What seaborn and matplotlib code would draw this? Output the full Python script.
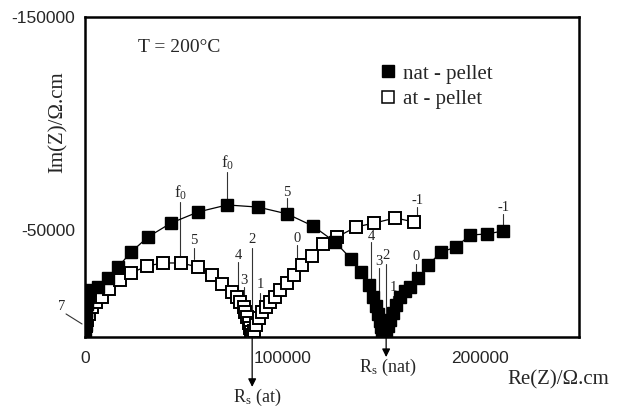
import matplotlib
matplotlib.use("Agg")
import matplotlib.pyplot as plt
from matplotlib.lines import Line2D
import seaborn as sns
import pandas as pd

# Impedance spectra at 200 °C (Nyquist representation, -Im plotted upward)
nat_re = [0, 0, 300, 500, 700, 1000, 1500, 1800, 6600, 11600, 16700, 23300,
          31900, 43500, 57200, 71900, 87600, 102300, 115400, 126600, 134700,
          139700, 143800, 145800, 147300, 148300, 149400, 149900, 150400,
          150900, 151900, 152400, 153400, 154400, 155900, 157500, 159500,
          162000, 164500, 168600, 173700, 180200, 187800, 194900, 203500,
          211600]
nat_im = [-500, -2800, -5600, -8900, -12200, -15500, -18800, -22000, -23400,
          -27700, -32800, -39800, -46900, -53400, -58600, -61900, -60900,
          -57700, -52000, -44500, -36600, -30500, -24400, -18800, -14500,
          -10800, -7500, -4700, -2300, -500, -900, -2800, -5200, -8000,
          -11300, -15000, -18800, -21600, -23400, -27700, -33800, -39800,
          -42200, -47800, -48300, -49700]

at_re = [0, 0, 500, 1000, 2000, 3500, 5600, 8600, 12200, 17700, 23300, 31400,
         39500, 48600, 57200, 64300, 69400, 74400, 77000, 78500, 80500, 81000,
         82000, 83000, 83500, 84000, 84600, 85600, 86600, 88100, 89600, 91600,
         93700, 96200, 98700, 102300, 105800, 109900, 114900, 120500, 127600,
         137200, 146300, 157000, 166600]
at_im = [-500, -2800, -5200, -8000, -10800, -14100, -16400, -18800, -22500,
         -26700, -30000, -33300, -34700, -34700, -32800, -29100, -24800,
         -21100, -18800, -16400, -14100, -11700, -9400, -6600, -4200, -2300,
         -900, -2800, -5600, -8900, -11700, -14100, -16400, -18800, -22000,
         -25300, -29100, -33800, -38000, -43600, -46900, -51600, -53400,
         -55800, -53900]

series_names = ["nat - pellet", "at - pellet"]

# Frequency markers: (label, x, text y, line top, line bottom)
nat_marks = [
    ("f$_0$", 71900, -81600, -77300, -64700),
    ("5", 102300, -67500, -65200, -60500),
    ("4", 144800, -47300, -44500, -24400),
    ("3", 148800, -35200, -32300, -17300),
    ("2", 152400, -38000, -34200, -8000),
    ("1", 155900, -23000, -19200, -14500),
    ("0", 167600, -37500, -34200, -30500),
    ("-1", 211600, -60900, -57700, -52500),
]
at_marks = [
    ("f$_0$", 48100, -67500, -63300, -37500),
    ("5", 55200, -45000, -41700, -36600),
    ("4", 77500, -38400, -35200, -17300),
    ("3", 80500, -26700, -23400, -13600),
    ("2", 84600, -45500, -41700, -3300),
    ("1", 88600, -24400, -20600, -10300),
    ("0", 107300, -46400, -43100, -34700),
    ("-1", 168100, -64200, -60900, -56200),
]
rs_at = 84600
rs_nat = 152400

x_ticks = [0, 50000, 100000, 150000, 200000, 250000]
x_tick_labels = ["0", "", "100000", "", "200000", ""]
y_ticks = [-150000, -100000, -50000, 0]
y_tick_labels = ["-150000", "", "-50000", ""]

sns.set_style("white")
plt.rcParams["font.family"] = ["Liberation Serif", "DejaVu Serif"]
plt.rcParams["mathtext.fontset"] = "custom"
plt.rcParams["mathtext.rm"] = "Liberation Serif"
plt.rcParams["mathtext.it"] = "Liberation Serif"

fig = plt.figure(figsize=(6.27, 4.08), dpi=100)
ax = fig.add_axes([85 / 627, 1 - 337 / 408, 494 / 627, 320 / 408])

nat_df = pd.DataFrame({"re": nat_re, "im": nat_im})
at_df = pd.DataFrame({"re": at_re, "im": at_im})

sns.lineplot(data=at_df, x="re", y="im", sort=False, ax=ax, color="black",
             lw=0.9, marker="s", markersize=8.8, markerfacecolor="white",
             markeredgecolor="black", markeredgewidth=1.4, zorder=3)
sns.lineplot(data=nat_df, x="re", y="im", sort=False, ax=ax, color="black",
             lw=0.9, marker="s", markersize=8.8, markerfacecolor="black",
             markeredgecolor="black", markeredgewidth=1.0, zorder=4)

ax.set_xlim(0, 250000)
ax.set_ylim(0, -150000)
ax.set_xticks(x_ticks)
ax.set_xticklabels(x_tick_labels, family="Liberation Sans", fontsize=12.5)
ax.set_yticks(y_ticks)
ax.set_yticklabels(y_tick_labels, family="Liberation Sans", fontsize=12.5)
ax.tick_params(axis="both", direction="in", length=7, width=1.2, color="black")
ax.tick_params(axis="x", pad=10)
ax.tick_params(axis="y", pad=7)
for sp in ax.spines.values():
    sp.set_visible(True)
    sp.set_color("black")
    sp.set_linewidth(1.8)

ax.set_xlabel("")
ax.set_ylabel("")
fig.text(58 / 627, 1 - 122 / 408, "Im(Z)/\u03a9.cm", rotation=90, fontsize=15,
         ha="center", va="center")
fig.text(558 / 627, 1 - 380 / 408, "Re(Z)/\u03a9.cm", fontsize=15,
         ha="center", va="center")
fig.text(179 / 627, 1 - 47 / 408, "T = 200\u00b0C", fontsize=14,
         ha="center", va="center")

handles = [
    Line2D([], [], ls="none", marker="s", markersize=8.6, markerfacecolor="black",
           markeredgecolor="black"),
    Line2D([], [], ls="none", marker="s", markersize=8.6, markerfacecolor="white",
           markeredgecolor="black", markeredgewidth=1.1),
]
ax.legend(handles, series_names, loc="upper left", frameon=False, fontsize=15,
          handlelength=0.6, handletextpad=0.4, labelspacing=0.3,
          borderaxespad=0, borderpad=0)
leg = ax.get_legend()
leg.set_bbox_to_anchor((382 / 627, 1 - 64 / 408), transform=fig.transFigure)


def mark(label, x, ty, y0, y1, size):
    ax.plot([x, x], [y0, y1], color="0.2", lw=0.8, zorder=2)
    ax.text(x, ty, label, ha="center", va="center", fontsize=size, zorder=5)


for lab, x, ty, y0, y1 in nat_marks + at_marks:
    mark(lab, x, ty, y0, y1, 12 if "f" in lab else 10.5)

# high-frequency end marker
ax.plot([-9600, -1500], [-10800, -6100], color="0.2", lw=0.8, clip_on=False)
ax.text(-11600, -14500, "7", ha="center", va="center", fontsize=10.5)

# bulk resistance arrows below the real axis
for x, tip, ty, txt, tx in [(rs_at, 23400, 28100, "R$_\\mathrm{s}$ (at)", 87100),
                            (rs_nat, 9400, 14100, "R$_\\mathrm{s}$ (nat)", 153400)]:
    ax.annotate("", xy=(x, tip), xytext=(x, 0),
                arrowprops=dict(arrowstyle="-|>", color="black", lw=0.9,
                                mutation_scale=12, shrinkA=0, shrinkB=0),
                annotation_clip=False)
    ax.text(tx, ty, txt, ha="center", va="center", fontsize=13, clip_on=False)

fig.savefig("out.png", dpi=100)
